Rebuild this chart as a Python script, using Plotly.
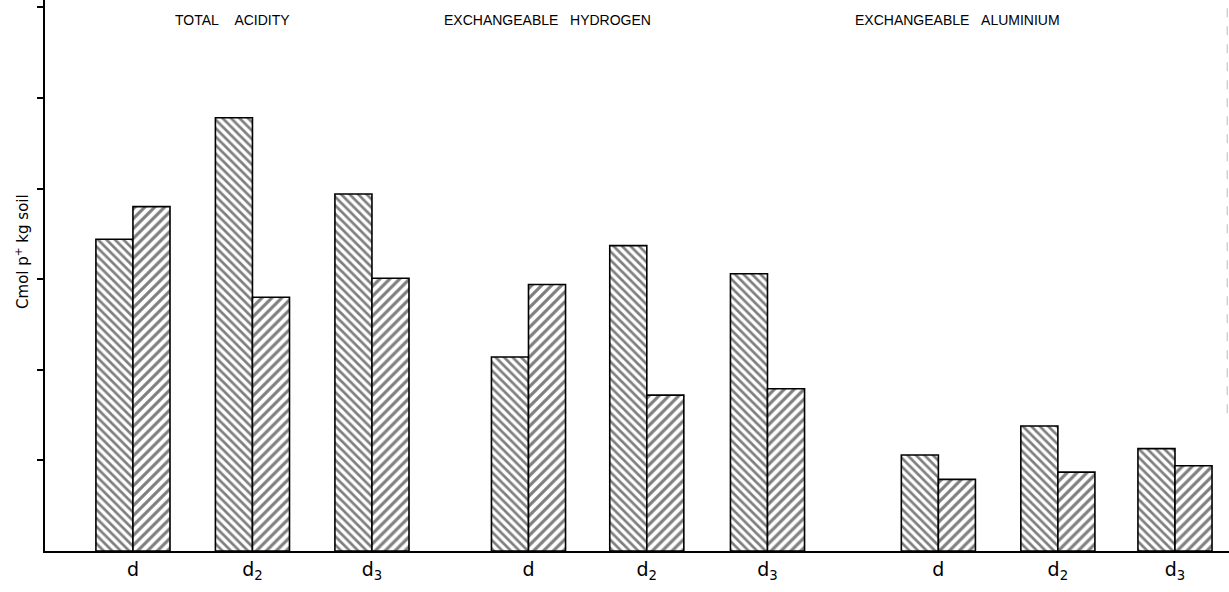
import plotly.graph_objects as go

# ---- data ----
group_labels = ["d", "d<sub>2</sub>", "d<sub>3</sub>",
                "d", "d<sub>2</sub>", "d<sub>3</sub>",
                "d", "d<sub>2</sub>", "d<sub>3</sub>"]
section_titles = ["TOTAL\u00a0\u00a0\u00a0\u00a0ACIDITY",
                  "EXCHANGEABLE\u00a0\u00a0\u00a0HYDROGEN",
                  "EXCHANGEABLE\u00a0\u00a0\u00a0ALUMINIUM"]
series_a = [3.44, 4.78, 3.94, 2.14, 3.37, 3.06, 1.06, 1.38, 1.13]
series_b = [3.80, 2.80, 3.01, 2.94, 1.72, 1.79, 0.79, 0.87, 0.94]
y_ticks = [1, 2, 3, 4, 5, 6]
y_title = "Cmol p<sup>+</sup> kg soil"

# ---- layout positions (not data) ----
group_pos = [0, 1.0, 2.0, 3.31, 4.30, 5.31, 6.74, 7.74, 8.72]
section_pos = [0.83, 3.47, 6.90]
bar_w = 0.31

fig = go.Figure()
fig.add_trace(go.Bar(
    x=group_pos, y=series_a, width=bar_w, offset=-bar_w,
    marker=dict(color="white",
                line=dict(color="black", width=1.6),
                pattern=dict(shape="\\", fgcolor="black", bgcolor="white",
                             size=6, solidity=0.45)),
    showlegend=False))
fig.add_trace(go.Bar(
    x=group_pos, y=series_b, width=bar_w, offset=0,
    marker=dict(color="white",
                line=dict(color="black", width=1.6),
                pattern=dict(shape="/", fgcolor="black", bgcolor="white",
                             size=7, solidity=0.45)),
    showlegend=False))

for t, xp in zip(section_titles, section_pos):
    fig.add_annotation(x=xp, y=5.86, xref="x", yref="y", text=t,
                       showarrow=False, xanchor="center", yanchor="middle",
                       font=dict(family="Liberation Sans", size=14, color="black"))

fig.add_annotation(x=0, y=3.3, xref="paper", yref="y", text=y_title,
                   textangle=-90, showarrow=False, xshift=-35,
                   font=dict(family="DejaVu Sans", size=15, color="black"))

# faint scan edge on the right
fig.add_shape(type="line", xref="paper", yref="paper", x0=0.9985, x1=0.9985,
              y0=0.25, y1=1.0, line=dict(color="#bbbbbb", width=1, dash="dash"))

fig.update_layout(
    width=1229, height=592,
    margin=dict(l=45, r=0, t=0, b=41),
    paper_bgcolor="white", plot_bgcolor="white",
    barmode="overlay",
    xaxis=dict(range=[-0.736, 9.172], showgrid=False, zeroline=False,
               showline=True, linecolor="black", linewidth=2,
               tickvals=group_pos, ticktext=group_labels,
               ticks="", ticklen=4, tickfont=dict(family="DejaVu Sans", size=19,
                                       color="black")),
    yaxis=dict(range=[0, 6.08], showgrid=False, zeroline=False,
               showline=True, linecolor="black", linewidth=2,
               tickvals=y_ticks, showticklabels=False,
               ticks="outside", ticklen=6, tickwidth=1.5, tickcolor="black"),
)

fig.write_html("out.html")
